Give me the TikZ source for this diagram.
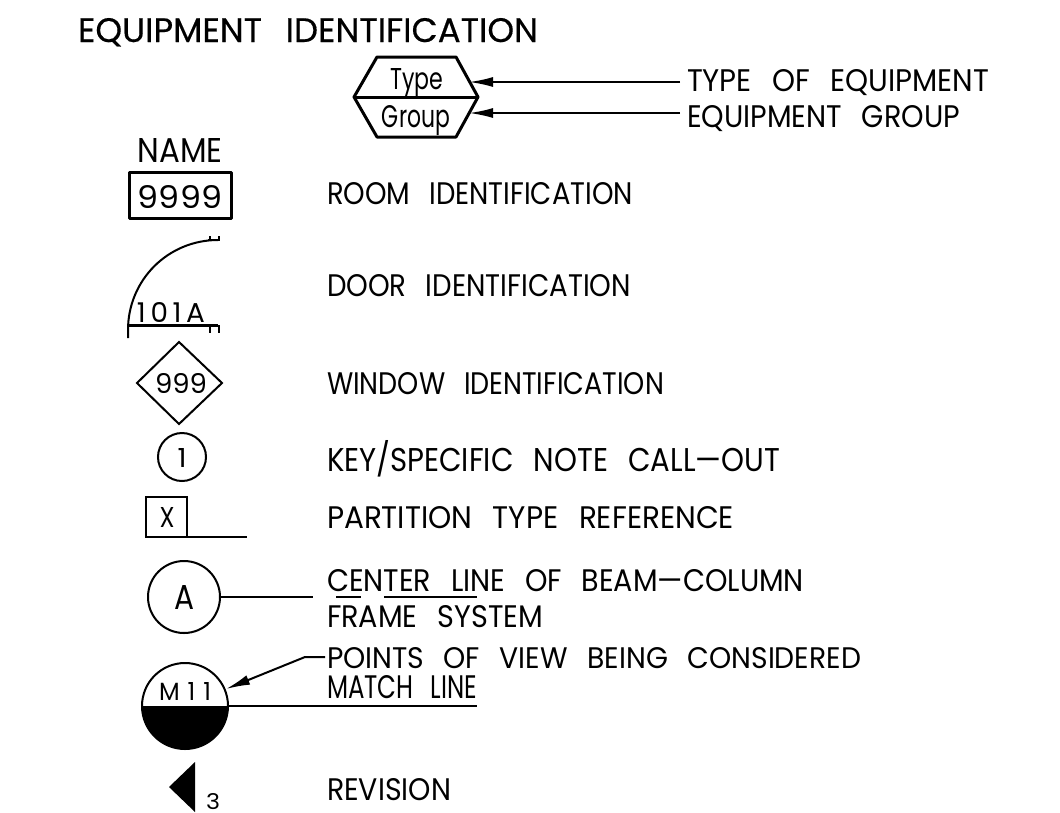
\documentclass[tikz,border=0pt]{standalone}
\usepackage{fontspec}
\usepackage{graphicx}
\setmainfont[WordSpace=2.6]{Poppins}
\newfontfamily\titlefont[WordSpace=2.6,FakeBold=0.4]{Poppins}
\usetikzlibrary{arrows.meta}
\newcommand{\fitbox}[3]{\resizebox{#1pt}{#2pt}{#3}}
\tikzset{
 lbl/.style={anchor=base west,inner sep=0pt,outer sep=0pt},
 sym/.style={anchor=base,inner sep=0pt,outer sep=0pt},
 thin line/.style={line width=2pt},
 thick line/.style={line width=3pt,line join=round},
 lead/.style={line width=2pt,-{Latex[length=24pt,width=10pt]}},
}
\begin{document}
\begin{tikzpicture}[x=1pt,y=-1pt]
\useasboundingbox (0,0) rectangle (1060,812);
\node[lbl] (title) at (78,42) {\fitbox{460}{24}{\titlefont EQUIPMENT IDENTIFICATION}};
% hexagon
\coordinate (hl) at (354,97); \coordinate (hr) at (478,97);
\draw[thick line] (hl) -- (377,57) -- (456,57) -- (hr) -- (456,137) -- (377,137) -- cycle;
\draw[thick line] (hl) -- (hr);
\node[sym] (type) at (417,89) {\fitbox{53}{21}{Type}};
\node[sym] (group) at (416,127) {\fitbox{68}{22}{Group}};
\node[lbl] (t1) at (687,91) {\fitbox{302}{22}{TYPE OF EQUIPMENT}};
\node[lbl] (t2) at (687,127) {\fitbox{273}{22}{EQUIPMENT GROUP}};
\coordinate (a1) at (469,82); \coordinate (a2) at (469,113);
\coordinate (b1) at (680,82); \coordinate (b2) at (680,113);
\draw[lead] (b1) -- (a1);
\draw[lead] (b2) -- (a2);
% room
\node[sym] (name) at (180,162) {\fitbox{85}{24}{NAME}};
\draw[thick line] (129,172) rectangle (231,218);
\node[sym] (num) at (180,208) {\fitbox{84}{23}{9999}};
\node[lbl] at (327,204) {\fitbox{306}{22}{ROOM IDENTIFICATION}};
% door
\draw[line width=2pt] (218,240) .. controls (168,240) and (128,280) .. (128,330) -- (128,338);
\draw[line width=2pt] (208,240) -- (219,240) -- (219,236);
\draw[line width=1.5pt] (210,240) -- (210,236);
\draw[line width=3pt] (128,325) -- (218,325);
\draw[line width=1.5pt] (210,325) -- (210,333);
\draw[line width=2pt] (219,325) -- (219,333);
\node[sym] at (171,322) {\fitbox{68}{20}{1\,0\,1\,A}};
\node[lbl] at (327,296) {\fitbox{304}{22}{DOOR IDENTIFICATION}};
% window
\draw[thin line] (137,383) -- (179,342) -- (222,383) -- (179,424) -- cycle;
\node[sym] at (181,393) {\fitbox{52}{20}{999}};
\node[lbl] at (327,394) {\fitbox{337}{22}{WINDOW IDENTIFICATION}};
% key
\draw[thin line] (182,457) circle (24);
\node[sym] at (182,467) {\fitbox{9}{19}{1}};
\node[lbl] at (327,471) {\fitbox{453}{31}{KEY/SPECIFIC NOTE CALL—OUT}};
% partition
\draw[thin line] (146,497) rectangle (187,537);
\draw[thin line] (187,537) -- (247,537);
\node[sym] at (167,527) {\fitbox{15}{20}{X}};
\node[lbl] at (327,528) {\fitbox{407}{22}{PARTITION TYPE REFERENCE}};
% axis
\draw[thin line] (184,597) circle (36);
\node[sym] (A) at (185,609) {\fitbox{20}{24}{A}};
\draw[thin line] (221,597) -- (313,597);
\draw[thin line] (336,597) -- (361,597);
\draw[thin line] (384,597) -- (477,597);
\node[lbl] at (327,591) {\fitbox{477}{22}{CENTER LINE OF BEAM—COLUMN}};
\node[lbl] at (327,627) {\fitbox{216}{22}{FRAME SYSTEM}};
% match
\draw[thin line] (185,706) circle (43);
\fill (142,706) .. controls (142,730) and (161,749) .. (185,749) .. controls (209,749) and (228,730) .. (228,706) -- cycle;
\draw[thin line] (228,706) -- (477,706);
\node[sym] at (185,700) {\fitbox{52}{18}{M\,\,1\,\,1}};
\draw[lead] (325,657) -- (305,657) -- (226,689);
\node[lbl] at (327,668) {\fitbox{534}{21}{POINTS OF VIEW BEING CONSIDERED}};
\node[lbl] at (327,698) {\fitbox{150}{23}{MATCH LINE}};
% revision
\fill (169,787) -- (195,762) -- (195,812) -- cycle;
\node[sym] at (213,809) {\fitbox{14}{16}{3}};
\node[lbl] at (327,800) {\fitbox{124}{22}{REVISION}};
\end{tikzpicture}
\end{document}
